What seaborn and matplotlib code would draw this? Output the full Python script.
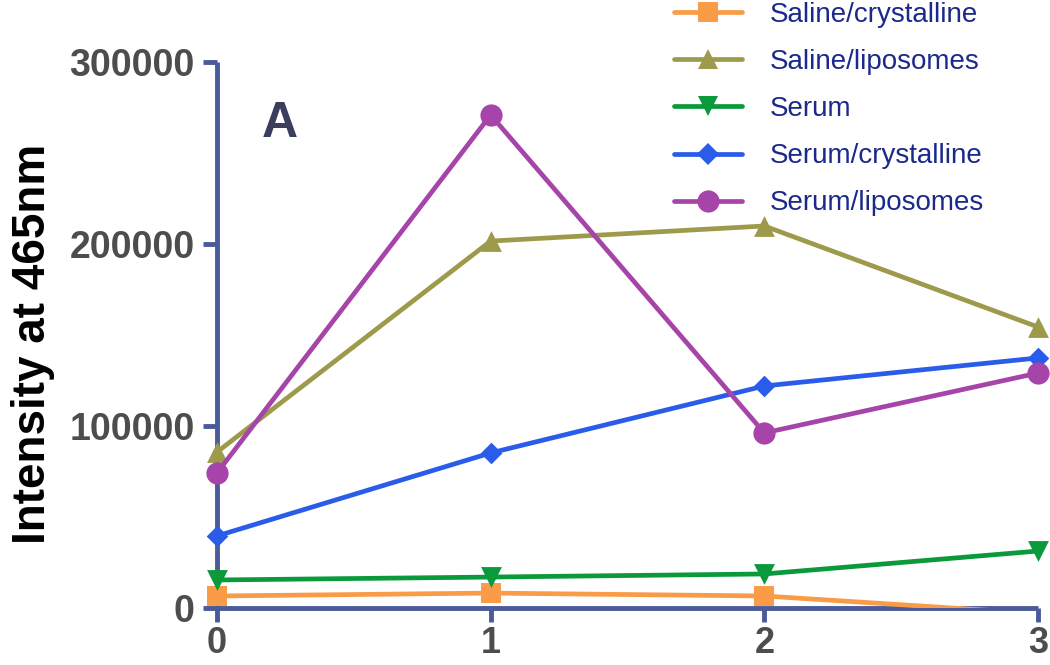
import matplotlib
matplotlib.use("Agg")
import matplotlib.pyplot as plt
import numpy as np
import pandas as pd
import seaborn as sns
from matplotlib.patches import Rectangle
from matplotlib.lines import Line2D

# ---- data ----
days = [0, 1, 2, 3]
saline_crystalline = [6600, 8200, 6600, -3000]
saline_liposomes = [85700, 201600, 209900, 154400]
serum = [15400, 17000, 18700, 31300]
serum_crystalline = [39600, 85200, 122000, 137400]
serum_liposomes = [74200, 270900, 96200, 129100]

series_names = ["Saline/crystalline", "Saline/liposomes", "Serum",
                "Serum/crystalline", "Serum/liposomes"]
series_values = [saline_crystalline, saline_liposomes, serum,
                 serum_crystalline, serum_liposomes]
x_ticks = [0, 1, 2, 3]
y_ticks = [0, 100000, 200000, 300000]
y_label = "Intensity at 465nm"
panel_label = "A"

# ---- styles ----
colors = {
    "Saline/crystalline": "#FA9B48",
    "Saline/liposomes": "#9D9A4C",
    "Serum": "#0A9A3B",
    "Serum/crystalline": "#2A5CEA",
    "Serum/liposomes": "#A644A9",
}
markers = {
    "Saline/crystalline": "s",
    "Saline/liposomes": "^",
    "Serum": "v",
    "Serum/crystalline": "D",
    "Serum/liposomes": "o",
}
msizes = {
    "Saline/crystalline": 15,
    "Saline/liposomes": 15,
    "Serum": 15,
    "Serum/crystalline": 11,
    "Serum/liposomes": 16,
}
axis_color = "#4B5A98"
tick_text_color = "#4D4D4D"
legend_text_color = "#1B2A8A"

rows = []
for name, vals in zip(series_names, series_values):
    for d, v in zip(days, vals):
        rows.append({"day": d, "value": v, "series": name})
df = pd.DataFrame(rows)

sns.set_theme(style="white")
plt.rcParams["font.family"] = ["Liberation Sans", "DejaVu Sans"]

fig = plt.figure(figsize=(10.5, 6.65), dpi=100)
ax = fig.add_axes([217 / 1050, 1 - 608 / 665, (1038 - 217) / 1050, (608 - 62) / 665])

# lines
for i, name in enumerate(series_names):
    sub = df[df["series"] == name]
    sns.lineplot(data=sub, x="day", y="value", color=colors[name], linewidth=3.4,
                 ax=ax, legend=False, estimator=None, sort=False, zorder=3 + 2 * i)
clip = Rectangle((-0.05, 0), 1.1, 1.2, transform=ax.transAxes)
for ln in ax.lines:
    ln.set_clip_path(clip)

# markers (only points inside the plotted range)
for i, name in enumerate(series_names):
    sub = df[(df["series"] == name) & (df["value"] >= 0)]
    sns.scatterplot(data=sub, x="day", y="value", color=colors[name],
                    marker=markers[name], s=msizes[name] ** 2, linewidth=0,
                    ax=ax, legend=False, clip_on=False, zorder=4 + 2 * i)

ax.set_xlim(0, 3)
ax.set_ylim(0, 300000)
ax.set_xticks(x_ticks)
ax.set_xticklabels([str(t) for t in x_ticks])
ax.set_yticks(y_ticks)
ax.set_yticklabels([str(t) for t in y_ticks])
ax.set_xlabel("")
ax.set_ylabel(y_label, fontsize=33, fontweight="bold", color="black")
ax.yaxis.set_label_coords((55 - 217) / 821, 0.484)

for s in ["top", "right"]:
    ax.spines[s].set_visible(False)
for s in ["left", "bottom"]:
    ax.spines[s].set_color(axis_color)
    ax.spines[s].set_linewidth(3.5)
    ax.spines[s].set_capstyle("butt")
ax.tick_params(axis="both", which="major", bottom=True, left=True,
               direction="out", length=10, width=3.5,
               color=axis_color, labelsize=27, labelcolor=tick_text_color)
ax.tick_params(axis="y", pad=6)
ax.tick_params(axis="x", pad=3, labelsize=26)
for lab in ax.get_xticklabels() + ax.get_yticklabels():
    lab.set_fontweight("bold")

ax.text((280 - 217) / 821, (608 - 137) / 546, panel_label, transform=ax.transAxes,
        ha="center", va="baseline", fontsize=36, fontweight="bold", color="#3B3D5C")

handles = [Line2D([], [], color=colors[n], lw=3.4, marker=markers[n],
                  markersize=msizes[n], markeredgewidth=0) for n in series_names]
leg = fig.legend(handles, series_names, loc="upper left",
                 bbox_to_anchor=(674 / 1050, 0.997), bbox_transform=fig.transFigure,
                 frameon=False, fontsize=20, handlelength=2.45, handletextpad=1.0,
                 labelspacing=0.76, borderpad=0, borderaxespad=0)
for t in leg.get_texts():
    t.set_color(legend_text_color)

fig.savefig("out.png", dpi=100)
